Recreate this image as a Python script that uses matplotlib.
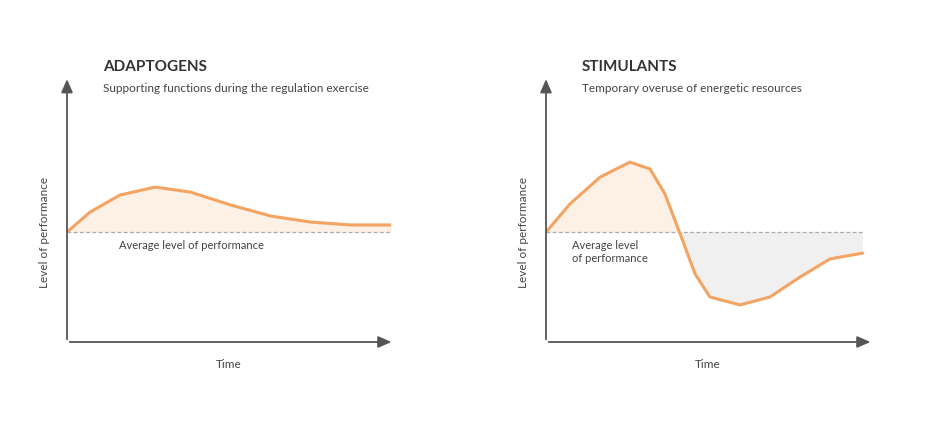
import matplotlib.pyplot as plt

plt.rcParams['font.family'] = ['Lato', 'DejaVu Sans']

# curve values (time 0..10, level 0..10)
adapt_t = [0, 0.71, 1.64, 2.72, 3.81, 5.05, 6.29, 7.52, 8.76, 10]
adapt_y = [4.18, 4.94, 5.59, 5.89, 5.70, 5.21, 4.79, 4.56, 4.45, 4.45]
stim_t = [0, 0.74, 1.67, 2.59, 3.21, 3.67, 4.14, 4.60, 5.06, 5.99, 6.91, 7.84, 8.77, 9.78]
stim_y = [4.18, 5.25, 6.27, 6.84, 6.58, 5.63, 4.11, 2.59, 1.71, 1.41, 1.71, 2.47, 3.16, 3.38]
average = 4.18

titles = ["ADAPTOGENS", "STIMULANTS"]
subtitles = ["Supporting functions during the regulation exercise",
             "Temporary overuse of energetic resources"]
avg_labels = ["Average level of performance", "Average level\nof performance"]

orange = '#f4a462'
ink = '#444444'
W, H = 936, 431
fig = plt.figure(figsize=(W / 100, H / 100), dpi=100)

panels = [(67, adapt_t, adapt_y, 10), (546, stim_t, stim_y, 9.78)]
for i, (x0, t, y, tend) in enumerate(panels):
    ax = fig.add_axes([x0 / W, (H - 343) / H, 324 / W, 263 / H])
    ax.set_xlim(0, 10)
    ax.set_ylim(0, 10)
    ax.axis('off')
    ax.fill_between(t, y, average, where=[v >= average for v in y],
                    interpolate=True, color='#fdf0e4', lw=0)
    ax.fill_between(t, y, average, where=[v <= average for v in y],
                    interpolate=True, color='#f0f0f0', lw=0)
    ax.plot([0, tend], [average, average], ls='--', color='#aaaaaa', lw=0.9, dashes=(3, 2))
    ax.plot(t, y, color=orange, lw=2.2, solid_capstyle='round')
    arrow = dict(arrowstyle='-|>,head_length=0.8,head_width=0.35', color='#555555', lw=1.3)
    ax.annotate('', xy=(0, 1.01), xytext=(0, 0), xycoords='axes fraction', arrowprops=arrow)
    ax.annotate('', xy=(1.01, 0), xytext=(0, 0), xycoords='axes fraction', arrowprops=arrow)
    ax.text(1.6 if i == 0 else 0.8, average - 0.25, avg_labels[i], fontsize=8, color=ink,
            va='top', linespacing=1.3)
    ax.text(-0.07, 0.42, "Level of performance", rotation=90, transform=ax.transAxes,
            ha='center', va='center', fontsize=8.5, color=ink)
    ax.text(0.5, -0.08, "Time", transform=ax.transAxes, ha='center', va='center',
            fontsize=8.5, color=ink)
    fig.text((x0 + 36) / W, 1 - 67 / H, titles[i], fontsize=11, fontweight='bold',
             color='#333333', va='center')
    fig.text((x0 + 36) / W, 1 - 89 / H, subtitles[i], fontsize=8.5, color=ink, va='center')

fig.savefig('out.png', dpi=100)
